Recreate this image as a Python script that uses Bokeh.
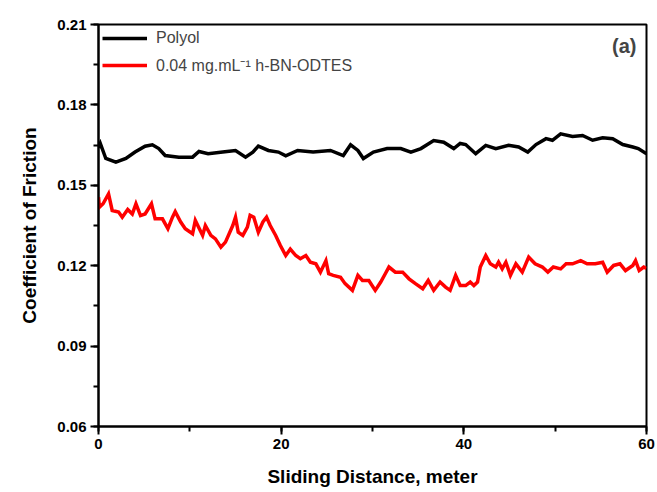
from bokeh.plotting import figure
from bokeh.models import Range1d, Legend, LegendItem, Label, SingleIntervalTicker, CustomJSTickFormatter
from bokeh.embed import file_html
from bokeh.resources import INLINE

# Polyol (black) series: sliding distance (m) and coefficient of friction
polyol_x = [0.0, 0.2, 0.8, 1.9, 3.0, 4.0, 5.1, 5.9, 6.6, 7.3, 8.8, 10.3, 11.0, 12.0, 13.6,
            15.0, 16.1, 16.9, 17.5, 18.6, 19.7, 20.5, 21.8, 23.5, 25.4, 26.8, 27.6, 28.4,
            29.0, 30.1, 31.6, 33.1, 34.2, 35.3, 36.7, 37.8, 38.9, 39.6, 40.2, 41.3, 42.4,
            43.5, 44.9, 46.0, 47.0, 47.9, 49.0, 49.7, 50.6, 51.9, 53.0, 54.1, 55.2, 56.3,
            57.4, 58.5, 59.1, 60.0]
polyol_y = [0.1640, 0.1656, 0.1600, 0.1586, 0.1600, 0.1624, 0.1646, 0.1651, 0.1637, 0.1611,
            0.1605, 0.1605, 0.1626, 0.1618, 0.1624, 0.1630, 0.1605, 0.1624, 0.1646, 0.1630,
            0.1624, 0.1610, 0.1630, 0.1624, 0.1630, 0.1611, 0.1651, 0.1630, 0.1600, 0.1624,
            0.1637, 0.1637, 0.1624, 0.1637, 0.1667, 0.1661, 0.1637, 0.1656, 0.1652, 0.1618,
            0.1649, 0.1637, 0.1649, 0.1643, 0.1624, 0.1652, 0.1674, 0.1668, 0.1692, 0.1682,
            0.1686, 0.1668, 0.1677, 0.1674, 0.1652, 0.1643, 0.1637, 0.1618]

# 0.04 mg/mL h-BN-ODTES (red) series
bn_x = [0.0, 0.1, 0.5, 1.1, 1.5, 2.2, 2.6, 3.2, 3.7, 4.1, 4.6, 5.1, 5.8, 6.2, 7.0, 7.6, 8.1,
        8.4, 9.0, 9.5, 10.3, 10.6, 11.4, 11.7, 12.3, 12.8, 13.4, 13.9, 14.7, 15.0, 15.3,
        15.8, 16.3, 16.6, 17.0, 17.5, 18.0, 18.4, 18.8, 19.4, 19.9, 20.5, 21.0, 21.6, 22.1,
        22.7, 23.2, 23.8, 24.3, 24.9, 25.2, 25.7, 26.5, 27.0, 27.8, 28.4, 28.9, 29.6, 30.3,
        30.9, 31.4, 31.8, 32.5, 33.3, 34.0, 34.7, 35.5, 36.1, 36.7, 37.4, 38.0, 38.5, 39.1,
        39.6, 40.2, 40.7, 41.1, 41.5, 41.8, 42.4, 42.9, 43.5, 43.8, 44.2, 44.6, 45.1, 45.7,
        46.4, 47.1, 47.8, 48.6, 49.2, 49.8, 50.6, 51.2, 51.9, 52.8, 53.5, 54.4, 55.2, 55.7,
        56.4, 57.1, 57.7, 58.5, 58.8, 59.2, 59.7, 60.0]
bn_y = [0.1456, 0.1418, 0.1431, 0.1468, 0.1406, 0.1400, 0.1381, 0.1410, 0.1393, 0.1431,
        0.1387, 0.1393, 0.1431, 0.1375, 0.1375, 0.1338, 0.1381, 0.1402, 0.1363, 0.1338,
        0.1319, 0.1369, 0.1313, 0.1350, 0.1313, 0.1300, 0.1269, 0.1288, 0.1350, 0.1381,
        0.1325, 0.1313, 0.1344, 0.1388, 0.1381, 0.1325, 0.1363, 0.1381, 0.1350, 0.1313,
        0.1276, 0.1238, 0.1262, 0.1238, 0.1226, 0.1238, 0.1213, 0.1207, 0.1176, 0.1219,
        0.1170, 0.1164, 0.1157, 0.1133, 0.1108, 0.1164, 0.1145, 0.1145, 0.1108, 0.1139,
        0.1170, 0.1195, 0.1176, 0.1176, 0.1151, 0.1133, 0.1114, 0.1145, 0.1108, 0.1139,
        0.1120, 0.1108, 0.1164, 0.1126, 0.1126, 0.1139, 0.1126, 0.1139, 0.1195, 0.1238,
        0.1207, 0.1195, 0.1213, 0.1188, 0.1213, 0.1164, 0.1207, 0.1176, 0.1232, 0.1207,
        0.1195, 0.1176, 0.1195, 0.1188, 0.1207, 0.1207, 0.1219, 0.1207, 0.1207, 0.1213,
        0.1176, 0.1201, 0.1207, 0.1182, 0.1201, 0.1219, 0.1182, 0.1195, 0.1190]

x_tick_interval = 20
y_tick_interval = 0.03
series_names = ["Polyol", "0.04 mg.mL\u207b\u00b9 h-BN-ODTES"]
panel_tag = "(a)"

FONT = "Liberation Sans"

p = figure(width=657, height=492, output_backend="svg", toolbar_location=None,
           x_range=Range1d(0, 60), y_range=Range1d(0.06, 0.21),
           min_border_left=98, min_border_right=11, min_border_top=24, min_border_bottom=66)

r1 = p.line(polyol_x, polyol_y, line_color="black", line_width=3.5, line_join="miter")
r2 = p.line(bn_x, bn_y, line_color="#ff0000", line_width=3.5, line_join="miter")

p.grid.visible = False
p.outline_line_color = "black"
p.outline_line_width = 2
p.outline_line_alpha = 1
p.background_fill_color = "white"
p.border_fill_color = "white"

p.xaxis.ticker = SingleIntervalTicker(interval=x_tick_interval, num_minor_ticks=2)
p.yaxis.ticker = SingleIntervalTicker(interval=y_tick_interval, num_minor_ticks=2)
p.yaxis.formatter = CustomJSTickFormatter(code="return tick.toFixed(2);")

for ax in (p.xaxis[0], p.yaxis[0]):
    ax.axis_line_width = 2
    ax.major_tick_line_width = 2
    ax.minor_tick_line_width = 2
    ax.minor_tick_line_color = "black"
    ax.major_tick_out = 8
    ax.major_tick_in = 0
    ax.minor_tick_out = 5
    ax.minor_tick_in = 0
    ax.major_label_text_font = FONT
    ax.major_label_text_font_style = "bold"
    ax.major_label_text_font_size = "15px"
    ax.major_label_text_color = "black"
    ax.axis_label_text_font = FONT
    ax.axis_label_text_font_style = "bold"
    ax.axis_label_text_font_size = "19px"
    ax.axis_label_text_color = "black"

p.xaxis.axis_label = "Sliding Distance, meter"
p.yaxis.axis_label = "Coefficient of Friction"
p.xaxis.major_label_standoff = 4
p.yaxis.major_label_standoff = 4
p.xaxis.axis_label_standoff = 14
p.yaxis.axis_label_standoff = 14

legend = Legend(items=[LegendItem(label=series_names[0], renderers=[r1]),
                       LegendItem(label=series_names[1], renderers=[r2])],
                location="top_left", margin=0, padding=4, spacing=6,
                glyph_width=45, glyph_height=20, label_height=20, label_standoff=9,
                label_text_font=FONT, label_text_font_size="16px",
                border_line_alpha=0, background_fill_alpha=0)
p.add_layout(legend)

p.add_layout(Label(x=58.9, y=0.2018, text=panel_tag,
                   text_font=FONT, text_font_style="bold", text_font_size="20px",
                   text_align="right", text_baseline="middle"))

open("out.html", "w").write(file_html(p, INLINE))
